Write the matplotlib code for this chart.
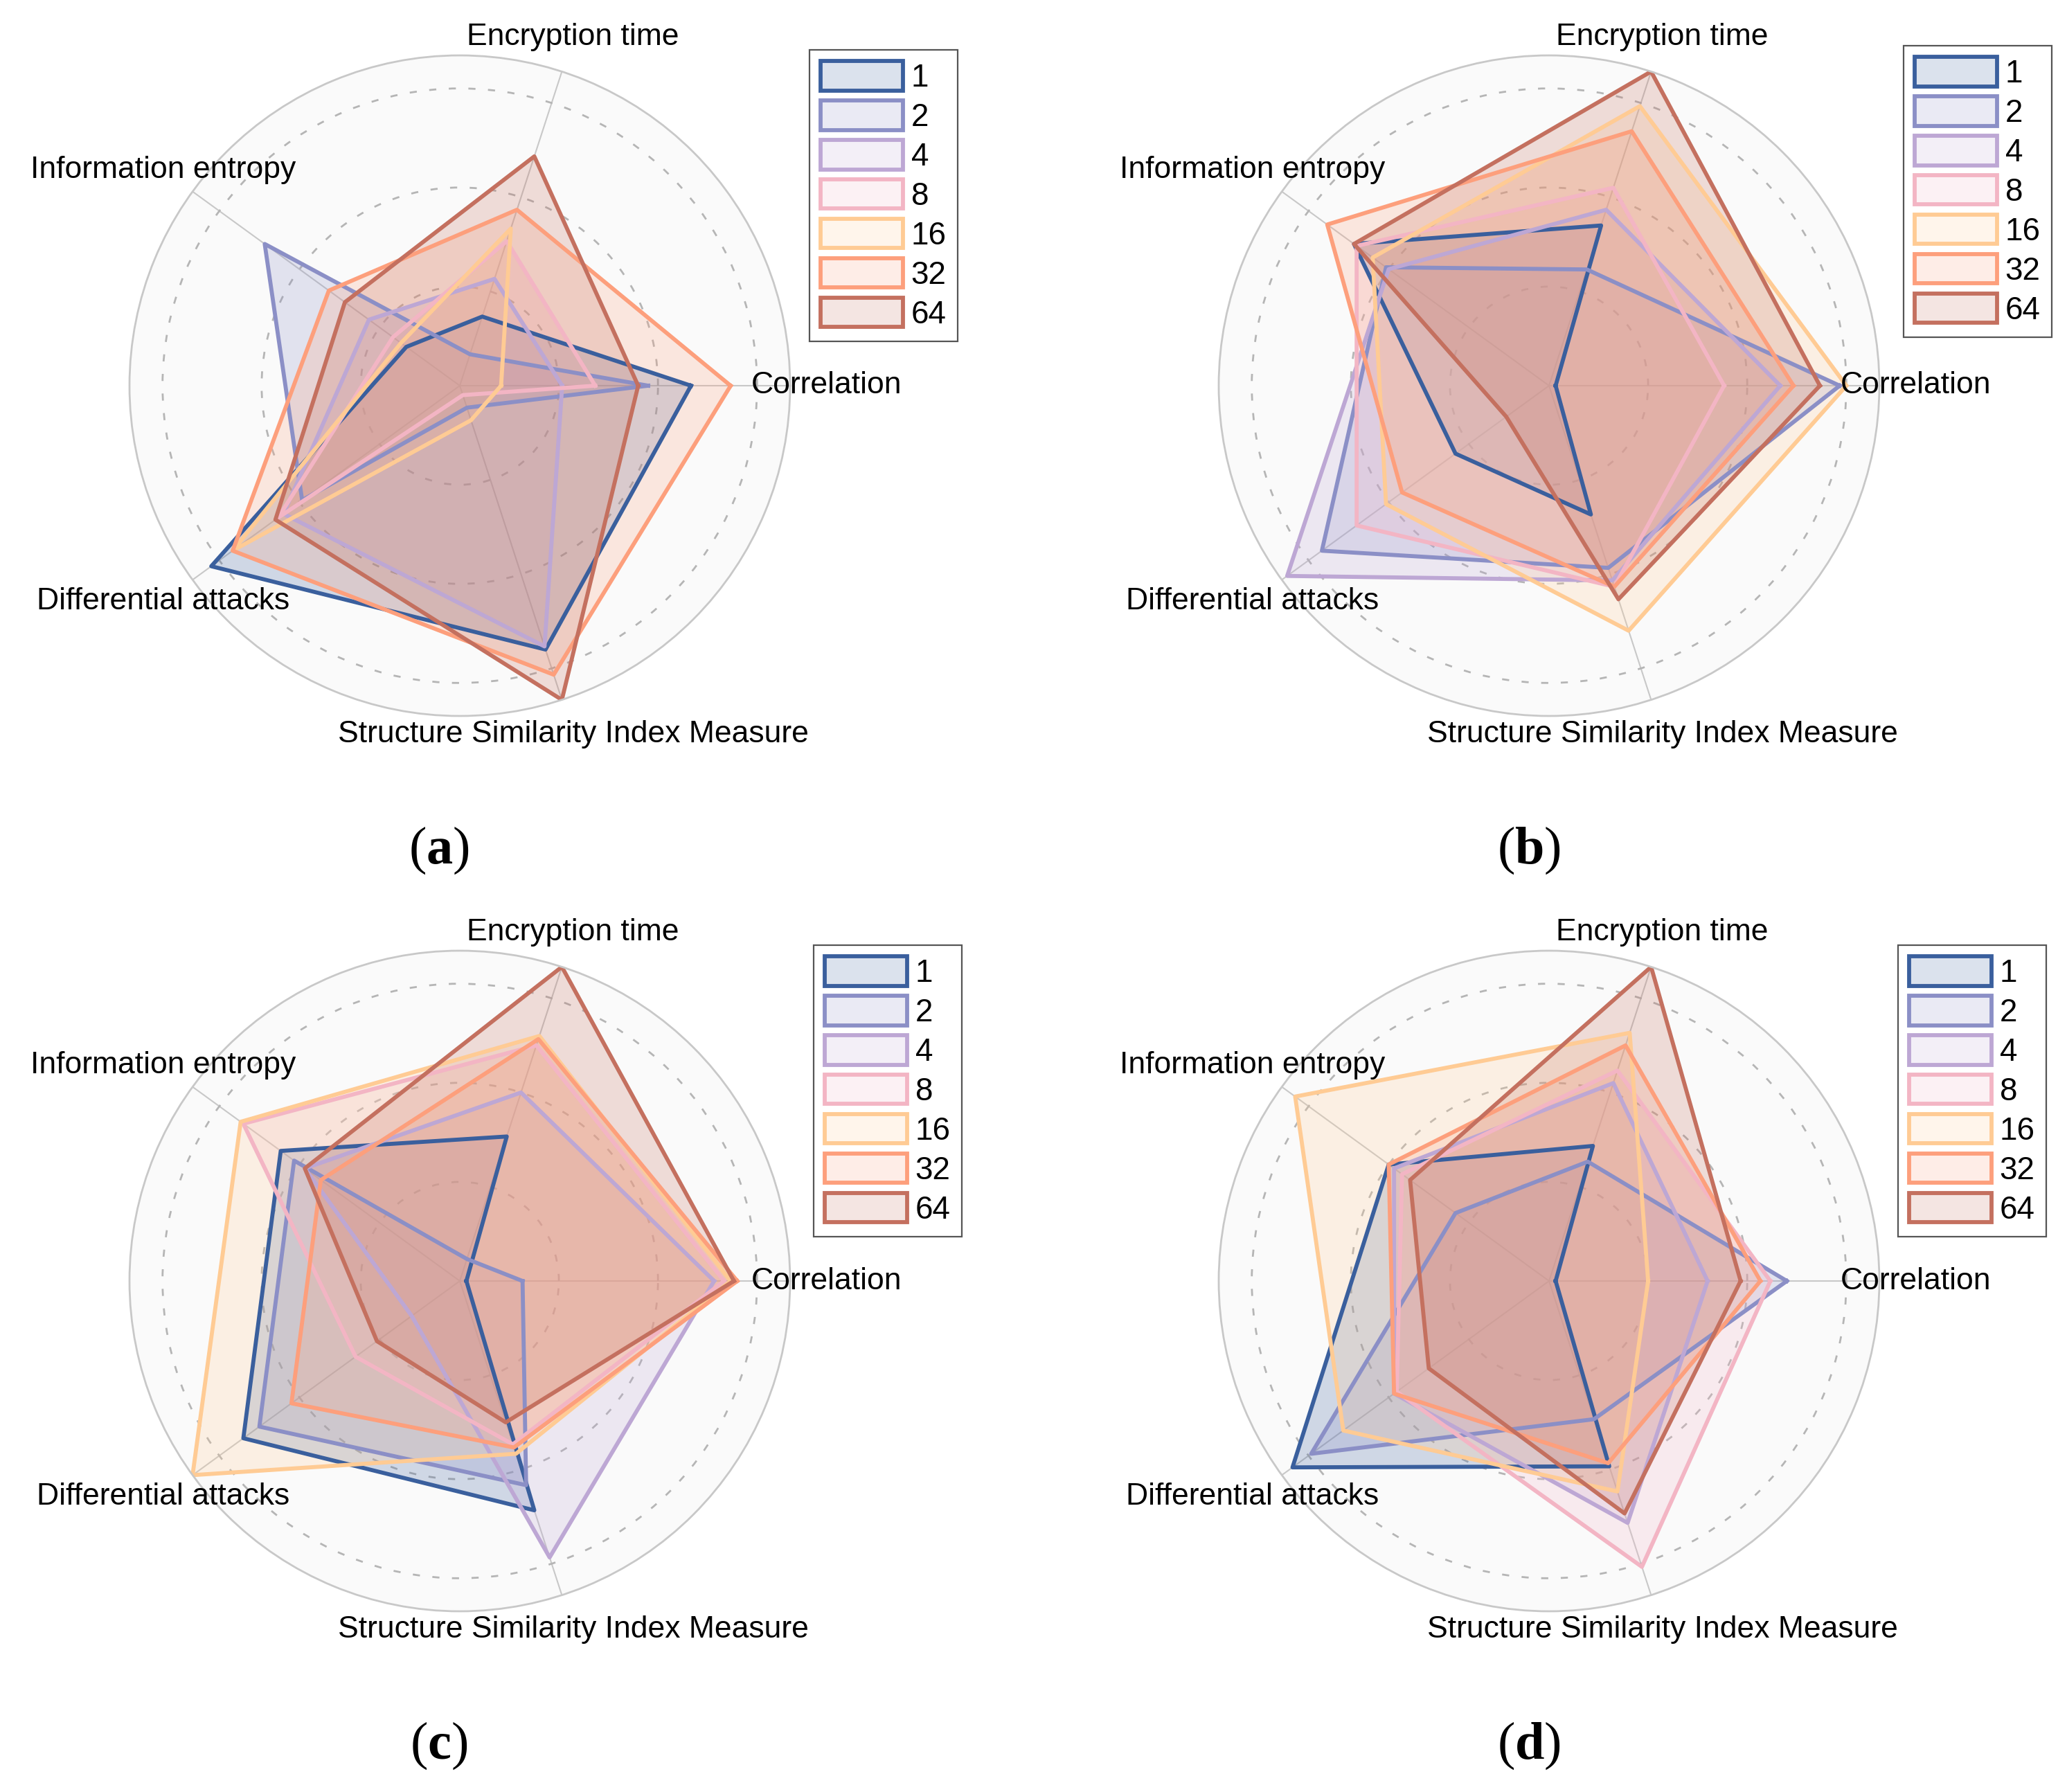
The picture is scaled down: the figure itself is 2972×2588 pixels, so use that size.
import numpy as np
import matplotlib
matplotlib.use("Agg")
import matplotlib.pyplot as plt
from matplotlib.patches import Patch
from matplotlib.colors import to_rgba

plt.rcParams['font.family'] = ['Liberation Sans', 'DejaVu Sans']
plt.rcParams['mathtext.fontset'] = 'custom'
plt.rcParams['mathtext.rm'] = 'Liberation Serif'
plt.rcParams['mathtext.bf'] = 'Liberation Serif:bold'

categories = ["Correlation", "Encryption time", "Information entropy",
              "Differential attacks", "Structure Similarity Index Measure"]
series = ["1", "2", "4", "8", "16", "32", "64"]
colors = ["#3a5f9d", "#8b8fc6", "#bda7d4", "#f3b5c4", "#ffcb94", "#fd9f7c", "#c4705f"]

# rows = series 1..64, cols = categories
vals_a = [[0.70, 0.22, 0.20, 0.93, 0.84],
          [0.57, 0.10, 0.73, 0.59, 0.07],
          [0.31, 0.34, 0.34, 0.66, 0.83],
          [0.41, 0.46, 0.25, 0.68, 0.03],
          [0.125, 0.50, 0.22, 0.85, 0.11],
          [0.82, 0.56, 0.49, 0.85, 0.92],
          [0.54, 0.73, 0.43, 0.69, 1.00]]

vals_b = [[0.02, 0.51, 0.73, 0.35, 0.41],
          [0.88, 0.37, 0.61, 0.85, 0.58],
          [0.70, 0.56, 0.60, 0.98, 0.62],
          [0.53, 0.63, 0.72, 0.72, 0.64],
          [0.90, 0.89, 0.66, 0.61, 0.78],
          [0.74, 0.81, 0.83, 0.55, 0.64],
          [0.82, 1.00, 0.73, 0.16, 0.68]]

vals_c = [[0.02, 0.46, 0.67, 0.81, 0.73],
          [0.19, 0.07, 0.62, 0.75, 0.65],
          [0.77, 0.60, 0.58, 0.18, 0.88],
          [0.80, 0.75, 0.81, 0.39, 0.52],
          [0.82, 0.78, 0.82, 1.00, 0.55],
          [0.84, 0.77, 0.52, 0.63, 0.53],
          [0.83, 1.00, 0.58, 0.31, 0.45]]

vals_d = [[0.02, 0.43, 0.60, 0.96, 0.59],
          [0.72, 0.38, 0.35, 0.89, 0.44],
          [0.48, 0.63, 0.58, 0.58, 0.77],
          [0.67, 0.67, 0.55, 0.57, 0.91],
          [0.30, 0.79, 0.95, 0.77, 0.67],
          [0.64, 0.75, 0.60, 0.58, 0.58],
          [0.58, 1.00, 0.52, 0.45, 0.74]]

W, H = 2972, 2588
R = 477
fig = plt.figure(figsize=(W / 100, H / 100), dpi=100)

angles = np.arange(len(categories)) * 2 * np.pi / len(categories)


def radar(cx, cy, vals):
    ax = fig.add_axes([(cx - R) / W, 1 - (cy + R) / H, 2 * R / W, 2 * R / H],
                      projection="polar")
    ax.set_facecolor("#fafafa")
    ax.set_axisbelow(True)
    a2 = list(angles) + [angles[0]]
    for v, c in zip(vals, colors):
        v2 = list(v) + [v[0]]
        ax.fill(a2, v2, color=c, alpha=0.22, lw=0)
        ax.plot(a2, v2, color=c, lw=4.2)
    ax.set_ylim(0, 1)
    ax.set_yticks([0.3, 0.6, 0.9])
    ax.set_yticklabels([])
    ax.set_xticks(angles)
    ax.set_xticklabels([])
    ax.yaxis.grid(True, ls=(0, (3.7, 6.5)), color="#b5b5b5", lw=2)
    ax.xaxis.grid(True, color="#c8c8c8", lw=1.5)
    ax.spines["polar"].set_color("#c8c8c8")
    ax.spines["polar"].set_linewidth(2)
    for a, name in zip(angles, categories):
        ax.text(a, 1.11, name, ha="center", va="center", fontsize=32)
    return ax


handles = [Patch(facecolor=to_rgba(c, 0.18), edgecolor=c, lw=4.2) for c in colors]


def add_legend(x, y):
    leg = fig.legend(handles, series, loc="upper left",
                     bbox_to_anchor=(x / W, 1 - y / H), fontsize=33,
                     frameon=True, fancybox=False, edgecolor="#555555",
                     framealpha=1, handlelength=2.6, handleheight=1.05,
                     labelspacing=0.22, handletextpad=0.25, borderpad=0.35,
                     borderaxespad=0)
    leg.get_frame().set_linewidth(1.6)


radar(664, 557, vals_a)
radar(2237, 557, vals_b)
radar(664, 1850, vals_c)
radar(2237, 1850, vals_d)

add_legend(1169, 72)
add_legend(2749, 66)
add_legend(1175, 1365)
add_legend(2741, 1365)

for x, y, s in [(634, 1228, "a"), (2208, 1228, "b"), (634, 2521, "c"), (2208, 2521, "d")]:
    fig.text(x / W, 1 - y / H, "($\\mathbf{" + s + "}$)", family="Liberation Serif",
             fontsize=55, ha="center", va="center")

fig.savefig("out.png", dpi=100)
